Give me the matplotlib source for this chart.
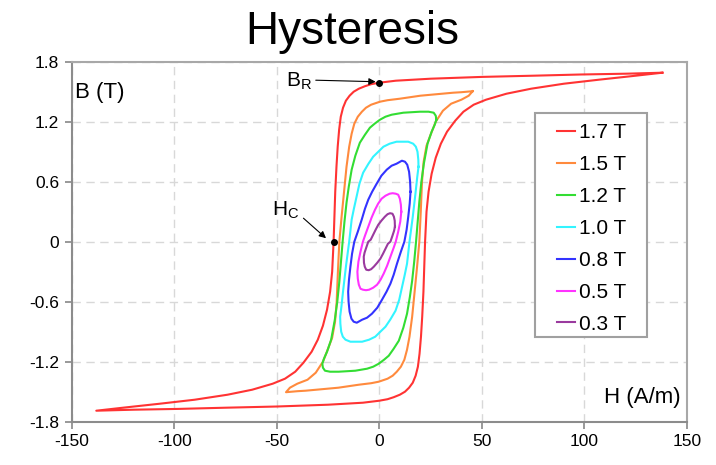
import numpy as np
import matplotlib
matplotlib.use("Agg")
import matplotlib.pyplot as plt
from matplotlib.patches import Rectangle

plt.rcParams['font.family'] = ['Liberation Sans', 'DejaVu Sans']
plt.rcParams['mathtext.fontset'] = 'custom'
plt.rcParams['mathtext.rm'] = 'Liberation Sans'
plt.rcParams['mathtext.it'] = 'Liberation Sans'
plt.rcParams['axes.unicode_minus'] = False

# ---- data: upper (descending) branch of each loop ----
# the ascending branch is the point reflection of the upper branch
labels = ["1.7 T", "1.5 T", "1.2 T", "1.0 T", "0.8 T", "0.5 T", "0.3 T"]
colors = ["#ff3333", "#ff8a3d", "#33dd33", "#33f4ff", "#3333ff", "#ff33ff", "#9a3a9e"]

H_17 = [138, 120, 98, 75, 50, 25, 8, 0, -4, -7, -10, -12.5, -14.5, -16.3, -17.7, -18.8, -19.6,
        -20.3, -20.9, -21.5, -22.3, -23, -24, -25.5, -27.5, -30, -33, -37, -41, -46, -52, -62,
        -74, -90, -107, -125, -138]
B_17 = [1.69, 1.68, 1.672, 1.66, 1.648, 1.63, 1.61, 1.59, 1.575, 1.555, 1.53, 1.50, 1.46, 1.41,
        1.34, 1.25, 1.12, 0.95, 0.75, 0.5, 0.0, -0.3, -0.5, -0.68, -0.84, -0.98, -1.1, -1.21,
        -1.3, -1.37, -1.42, -1.48, -1.53, -1.58, -1.62, -1.66, -1.69]

H_15 = [45.5, 40, 36, 28, 20, 10, 4, 0.3, -4, -6.5, -8.5, -10.5, -12.2, -13.5, -14.7, -16, -17.2,
        -18.4, -19.5, -20.2, -20.8, -21.6, -23, -25, -27.5, -31, -35, -40, -43.6, -45.5]
B_15 = [1.505, 1.495, 1.49, 1.475, 1.46, 1.43, 1.415, 1.40, 1.37, 1.34, 1.30, 1.25, 1.18, 1.08,
        0.95, 0.75, 0.5, 0.25, 0.0, -0.3, -0.6, -0.8, -0.96, -1.07, -1.2, -1.31, -1.38, -1.42,
        -1.46, -1.505]

H_12 = [27.8, 27.5, 26.5, 24, 19.8, 11.7, 6, 3, 0.3, -2.3, -4.6, -7, -9.5, -11.7, -13.5, -14.9,
        -16, -17, -17.9, -18.7, -19.5, -20.5, -21.7, -23.5, -25.5, -27, -27.8]
B_12 = [1.22, 1.26, 1.29, 1.30, 1.30, 1.29, 1.27, 1.25, 1.22, 1.18, 1.14, 1.07, 0.99, 0.86, 0.72,
        0.55, 0.39, 0.2, 0.0, -0.2, -0.4, -0.6, -0.78, -0.98, -1.1, -1.17, -1.22]

H_10 = [19.1, 19.0, 18.6, 17.8, 16.5, 14.1, 11, 8.4, 5, 2, -0.5, -3, -5.3, -7.9, -9.7, -11.1,
        -12.4, -13.5, -14.7, -16.3, -17.6, -18.5, -19.1]
B_10 = [0.75, 0.82, 0.90, 0.95, 0.98, 1.0, 1.0, 1.0, 0.98, 0.95, 0.90, 0.85, 0.78, 0.69, 0.58,
        0.45, 0.33, 0.22, 0.0, -0.25, -0.48, -0.65, -0.75]

H_08 = [15.2, 15.0, 14.5, 13.6, 12.5, 11, 8.4, 6, 3.6, 1, -1.3, -3.5, -5.4, -7, -8.6, -10.5,
        -12.2, -13.3, -14.1, -14.8, -15.2]
B_08 = [0.50, 0.60, 0.70, 0.77, 0.80, 0.81, 0.78, 0.76, 0.72, 0.66, 0.58, 0.50, 0.42, 0.33, 0.22,
        0.10, 0.0, -0.12, -0.25, -0.38, -0.50]

H_05 = [10.7, 10.5, 10, 9.2, 8, 6.5, 5, 3, 1.1, -0.6, -2.1, -3.8, -5.4, -7, -8, -9.2, -10.2, -10.7]
B_05 = [0.30, 0.37, 0.43, 0.47, 0.48, 0.485, 0.48, 0.46, 0.43, 0.38, 0.32, 0.24, 0.15, 0.06, 0.0,
        -0.1, -0.2, -0.30]

H_03 = [7.6, 7.5, 7.1, 6.4, 5.2, 4, 2.7, 1, -0.5, -1.8, -3, -4.2, -5.4, -6.4, -7.2, -7.6]
B_03 = [0.15, 0.21, 0.25, 0.28, 0.285, 0.275, 0.25, 0.21, 0.17, 0.12, 0.07, 0.02, 0.0, -0.06,
        -0.11, -0.15]

upper_H = [H_17, H_15, H_12, H_10, H_08, H_05, H_03]
upper_B = [B_17, B_15, B_12, B_10, B_08, B_05, B_03]

# marked points
BR_point = (0, 1.59)
HC_point = (-22.3, 0.0)

x_ticks = [-150, -100, -50, 0, 50, 100, 150]
y_ticks = [-1.8, -1.2, -0.6, 0, 0.6, 1.2, 1.8]
y_tick_labels = ["-1.8", "-1.2", "-0.6", "0", "0.6", "1.2", "1.8"]

# ---- figure ----
fig = plt.figure(figsize=(7.16, 4.65), dpi=100)
ax = fig.add_axes([0.1001, 0.0931, 0.8594, 0.7742])

for Hs, Bs, c, lab in zip(upper_H, upper_B, colors, labels):
    Hs = np.asarray(Hs, float)
    Bs = np.asarray(Bs, float)
    H_loop = np.concatenate([Hs, -Hs])
    B_loop = np.concatenate([Bs, -Bs])
    ax.plot(H_loop, B_loop, color=c, lw=1.5, label=lab, solid_joinstyle='round', zorder=3)

ax.plot([BR_point[0], HC_point[0]], [BR_point[1], HC_point[1]], 'o', color='black', ms=4, zorder=4)

ax.set_xlim(-150, 150)
ax.set_ylim(-1.8, 1.8)
ax.set_xticks(x_ticks)
ax.set_xticklabels([str(v) for v in x_ticks])
ax.set_yticks(y_ticks)
ax.set_yticklabels(y_tick_labels)
ax.grid(True, color='#d8d8d8', linestyle=(0, (6, 4)), linewidth=1.0, zorder=0)
ax.set_axisbelow(True)
ax.tick_params(axis='both', direction='out', length=5, width=1.2, color='#888888',
               labelsize=12.5, pad=4, top=False, right=False)
for s in ['left', 'bottom']:
    ax.spines[s].set_color('#8c8c8c')
    ax.spines[s].set_linewidth(1.5)
for s in ['top', 'right']:
    ax.spines[s].set_color('#a8a8a8')
    ax.spines[s].set_linewidth(1.5)

# axis labels inside
ax.text(0.006, 0.898, "B (T)", transform=ax.transAxes, fontsize=16, ha='left', va='baseline')
ax.text(0.990, 0.052, "H (A/m)", transform=ax.transAxes, fontsize=16, ha='right', va='baseline')

# annotations
ax.text(-45.5, 1.555, r"B$_\mathrm{R}$", fontsize=15, ha='left', va='baseline')
ax.annotate("", xy=(-1.8, 1.60), xytext=(-31, 1.615),
            arrowprops=dict(arrowstyle='-|>', color='black', lw=0.8, mutation_scale=10,
                            shrinkA=0, shrinkB=0))
ax.text(-52.5, 0.265, r"H$_\mathrm{C}$", fontsize=15, ha='left', va='baseline')
ax.annotate("", xy=(-26.0, 0.035), xytext=(-37.0, 0.235),
            arrowprops=dict(arrowstyle='-|>', color='black', lw=0.8, mutation_scale=10,
                            shrinkA=0, shrinkB=0))

# legend with manual frame
ax.add_patch(Rectangle((0.753, 0.235), 0.182, 0.622, transform=ax.transAxes,
                       facecolor='white', edgecolor='#a0a0a0', lw=1.5, zorder=5))
leg = ax.legend(loc='upper left', bbox_to_anchor=(0.788, 0.829), frameon=False,
                fontsize=15, handlelength=0.87, handletextpad=0.2, labelspacing=0.62,
                borderpad=0, borderaxespad=0)
leg.set_zorder(6)

fig.text(352 / 716, 0.9047, "Hysteresis", fontsize=33, ha='center', va='baseline')

fig.savefig("out.png", dpi=100)
